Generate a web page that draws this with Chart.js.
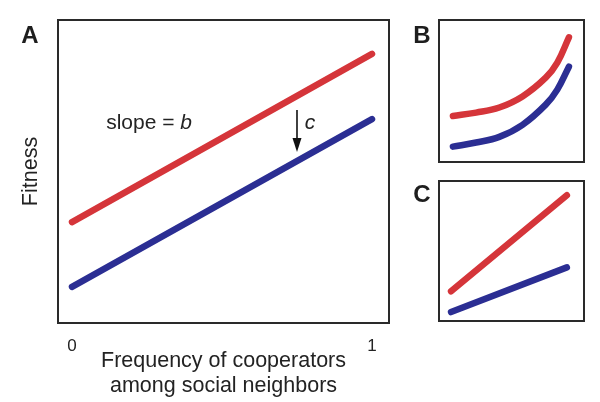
<!DOCTYPE html>
<html>
<head>
<meta charset="utf-8">
<script src="https://cdn.jsdelivr.net/npm/chart.js@4"></script>
<style>
  html, body { margin: 0; padding: 0; background: #fff; }
  #wrap { position: relative; width: 600px; height: 402px; overflow: hidden; }
  canvas { position: absolute; }
</style>
</head>
<body>
<div id="wrap">
  <canvas id="cA" width="600" height="402" style="left:0;top:0;"></canvas>
  <canvas id="cB" width="200" height="175" style="left:400px;top:0;"></canvas>
  <canvas id="cC" width="200" height="170" style="left:400px;top:170px;"></canvas>
</div>
<script>
// ---------- data ----------
// Panel A (linear, equal slopes)
const aX = [0, 1];
const aDefectors = [0.333, 0.888];   // red
const aCooperators = [0.119, 0.673]; // blue
const aTickLabels = ['0', '1'];
const aTickValues = [0, 1];
const xTitleLines = ['Frequency of cooperators', 'among social neighbors'];
const yTitle = 'Fitness';
const slopeText = 'slope = ';
const slopeVar = 'b';
const costVar = 'c';
const slopeLabelPos = [0.257, 0.66];
const costLabelPos = [0.793, 0.66];
const arrowX = [0.75];
const arrowY = [0.703, 0.564];

// Panel B (accelerating curves)
const bX = [0, 0.2, 0.4, 0.6, 0.8, 0.9, 1];
const bDefectors = [0.324, 0.348, 0.384, 0.462, 0.594, 0.700, 0.878];
const bCooperators = [0.108, 0.137, 0.177, 0.262, 0.404, 0.510, 0.671];

// Panel C (different slopes)
const cX = [0, 1];
const cDefectors = [0.212, 0.898];
const cCooperators = [0.064, 0.383];

const panelLabels = ['A', 'B', 'C'];

// ---------- styles ----------
const RED = '#d5353a';
const BLUE = '#2b2e93';
const INK = '#232323';
const FONT = "'Liberation Sans', Arial, Helvetica, sans-serif";

function pts(xs, ys) { return xs.map((x, i) => ({ x: x, y: ys[i] })); }

function lineDS(xs, ys, color, curved) {
  return {
    data: pts(xs, ys),
    borderColor: color,
    backgroundColor: color,
    borderWidth: 6.5,
    borderCapStyle: 'round',
    borderJoinStyle: 'round',
    pointRadius: 0,
    fill: false,
    tension: curved ? 0.4 : 0,
    cubicInterpolationMode: 'default',
    clip: false
  };
}

function framePlugin(label, dx, dy) {
  return {
    id: 'frame' + label,
    afterDraw(chart) {
      const ctx = chart.ctx;
      const a = chart.chartArea;
      ctx.save();
      ctx.strokeStyle = '#2a2a2a';
      ctx.lineWidth = 2;
      ctx.strokeRect(a.left, a.top, a.right - a.left, a.bottom - a.top);
      ctx.fillStyle = '#1e1e1e';
      ctx.font = 'bold 24px ' + FONT;
      ctx.textAlign = 'center';
      ctx.textBaseline = 'middle';
      ctx.fillText(label, a.left + dx, a.top + dy);
      ctx.restore();
    }
  };
}

const annotPlugin = {
  id: 'annot',
  afterDatasetsDraw(chart) {
    const ctx = chart.ctx;
    const xs = chart.scales.x, ys = chart.scales.y;
    ctx.save();
    ctx.fillStyle = INK;
    ctx.textBaseline = 'middle';
    // slope = b
    ctx.font = '21px ' + FONT;
    const w1 = ctx.measureText(slopeText).width;
    ctx.font = 'italic 21px ' + FONT;
    const w2 = ctx.measureText(slopeVar).width;
    const sx = xs.getPixelForValue(slopeLabelPos[0]) - (w1 + w2) / 2;
    const sy = ys.getPixelForValue(slopeLabelPos[1]);
    ctx.textAlign = 'left';
    ctx.font = '21px ' + FONT;
    ctx.fillText(slopeText, sx, sy);
    ctx.font = 'italic 21px ' + FONT;
    ctx.fillText(slopeVar, sx + w1, sy);
    // c
    ctx.textAlign = 'center';
    ctx.fillText(costVar, xs.getPixelForValue(costLabelPos[0]), ys.getPixelForValue(costLabelPos[1]));
    // arrow
    const ax = xs.getPixelForValue(arrowX[0]);
    const y0 = ys.getPixelForValue(arrowY[0]);
    const y1 = ys.getPixelForValue(arrowY[1]);
    ctx.strokeStyle = '#111';
    ctx.lineWidth = 1.6;
    ctx.beginPath();
    ctx.moveTo(ax, y0);
    ctx.lineTo(ax, y1 - 8);
    ctx.stroke();
    ctx.fillStyle = '#111';
    ctx.beginPath();
    ctx.moveTo(ax - 4.5, y1 - 14);
    ctx.lineTo(ax + 4.5, y1 - 14);
    ctx.lineTo(ax, y1);
    ctx.closePath();
    ctx.fill();
    ctx.restore();
  }
};

Chart.defaults.font.family = FONT;
Chart.defaults.color = INK;

// ---------- Panel A ----------
new Chart(document.getElementById('cA'), {
  type: 'line',
  data: { datasets: [lineDS(aX, aDefectors, RED, false), lineDS(aX, aCooperators, BLUE, false)] },
  options: {
    responsive: false,
    animation: false,
    devicePixelRatio: 1,
    layout: { padding: { left: 0, top: 20, right: 211, bottom: 0 } },
    plugins: { legend: { display: false }, tooltip: { enabled: false } },
    scales: {
      x: {
        type: 'linear',
        min: -0.0467,
        max: 1.0567,
        grid: { display: false, drawTicks: false },
        border: { display: false },
        afterBuildTicks(scale) { scale.ticks = aTickValues.map(v => ({ value: v })); },
        ticks: {
          padding: 13,
          font: { size: 17 },
          color: INK,
          maxRotation: 0,
          callback: (v) => aTickLabels[aTickValues.indexOf(v)]
        },
        afterFit(scale) { scale.height = 79; },
        title: {
          display: true,
          text: xTitleLines,
          font: { size: 21.5, lineHeight: 1.163 },
          color: INK,
          padding: { top: 0, bottom: 3.5 }
        }
      },
      y: {
        type: 'linear',
        min: 0,
        max: 1,
        grid: { display: false, drawTicks: false },
        border: { display: false },
        ticks: { display: false },
        afterFit(scale) { scale.width = 58; },
        title: {
          display: true,
          text: yTitle,
          font: { size: 21.5, lineHeight: 1.163 },
          color: INK,
          padding: { top: 18.5, bottom: 0 }
        }
      }
    }
  },
  plugins: [framePlugin(panelLabels[0], -28, 16), annotPlugin]
});

// ---------- Panel B ----------
new Chart(document.getElementById('cB'), {
  type: 'line',
  data: { datasets: [lineDS(bX, bDefectors, RED, true), lineDS(bX, bCooperators, BLUE, true)] },
  options: {
    responsive: false,
    animation: false,
    devicePixelRatio: 1,
    layout: { padding: { left: 39, top: 20, right: 16, bottom: 13 } },
    plugins: { legend: { display: false }, tooltip: { enabled: false } },
    scales: {
      x: { type: 'linear', display: false, min: -0.12, max: 1.13 },
      y: { type: 'linear', display: false, min: 0, max: 1 }
    }
  },
  plugins: [framePlugin(panelLabels[1], -17, 16)]
});

// ---------- Panel C ----------
new Chart(document.getElementById('cC'), {
  type: 'line',
  data: { datasets: [lineDS(cX, cDefectors, RED, false), lineDS(cX, cCooperators, BLUE, false)] },
  options: {
    responsive: false,
    animation: false,
    devicePixelRatio: 1,
    layout: { padding: { left: 39, top: 11, right: 16, bottom: 19 } },
    plugins: { legend: { display: false }, tooltip: { enabled: false } },
    scales: {
      x: { type: 'linear', display: false, min: -0.104, max: 1.148 },
      y: { type: 'linear', display: false, min: 0, max: 1 }
    }
  },
  plugins: [framePlugin(panelLabels[2], -17, 14)]
});
</script>
</body>
</html>
